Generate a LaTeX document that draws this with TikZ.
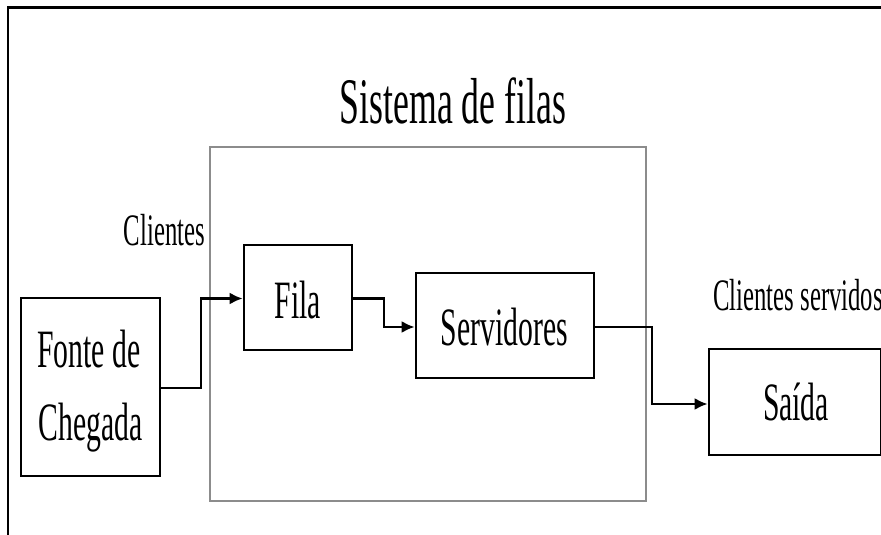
\documentclass[tikz,border=0pt]{standalone}
\usepackage{fontspec}
\setmainfont[FakeStretch=0.55]{Liberation Serif}
\usetikzlibrary{arrows.meta}
\tikzset{
  blk/.style={draw=black, line width=2.6pt, rectangle, inner sep=0pt},
  sys/.style={draw=black!45, line width=1.4pt, rectangle, inner sep=0pt},
  lbl/.style={inner sep=0pt, anchor=base, font=\fontsize{54}{54}\selectfont},
  small/.style={inner sep=0pt, anchor=base, font=\fontsize{45}{45}\selectfont},
  conn/.style={line width=2.6pt, -{Latex[length=13pt,width=12pt]}},
  frame/.style={line width=2.2pt, black}
}
\begin{document}
\begin{tikzpicture}[x=1pt,y=-1pt]
\useasboundingbox (0,0) rectangle (881,535);
\fill[white] (0,0) rectangle (881,535);
% outer frame (top and left only)
\coordinate (ftl) at (8,7.5);
\coordinate (ftr) at (881,7.5);
\coordinate (fbl) at (8,535);
\draw[frame] (ftr) -- (ftl) -- (fbl);
% system box
\node[sys, minimum width=436pt, minimum height=354pt] (sys) at (428,324) {};
\node[inner sep=0pt, anchor=base, font=\fontsize{65}{65}\selectfont] (title) at (453,123) {Sistema de filas};
% blocks
\node[blk, minimum width=139pt, minimum height=178pt] (fonte) at (90.5,387) {};
\node[blk, minimum width=108pt, minimum height=105pt] (fila) at (298,297.5) {};
\node[blk, minimum width=178pt, minimum height=105pt] (serv) at (505,325.5) {};
\node[blk, minimum width=172pt, minimum height=106pt] (saida) at (795,402) {};
% labels
\node[lbl] (t1) at (89,367) {Fonte de};
\node[lbl] (t2) at (90.5,440) {Chegada};
\node[lbl] (t3) at (298,318) {Fila};
\node[lbl] (t4) at (504.5,345) {Servidores};
\node[lbl] (t5) at (796,420) {Saída};
\node[small] (c1) at (164.5,245) {Clientes};
\node[small, anchor=base west] (c2) at (713,310) {Clientes servidos};
% connectors
\coordinate (a1) at (160,388);
\draw[conn] (a1) -| (201,298.5) -- (fila.west |- 0,298.5);
\coordinate (b1) at (352,298.5);
\draw[conn] (b1) -| (384,327) -- (serv.west |- 0,327);
\coordinate (d1) at (594,327);
\draw[conn] (d1) -| (652,404) -- (saida.west |- 0,404);
\end{tikzpicture}
\end{document}
